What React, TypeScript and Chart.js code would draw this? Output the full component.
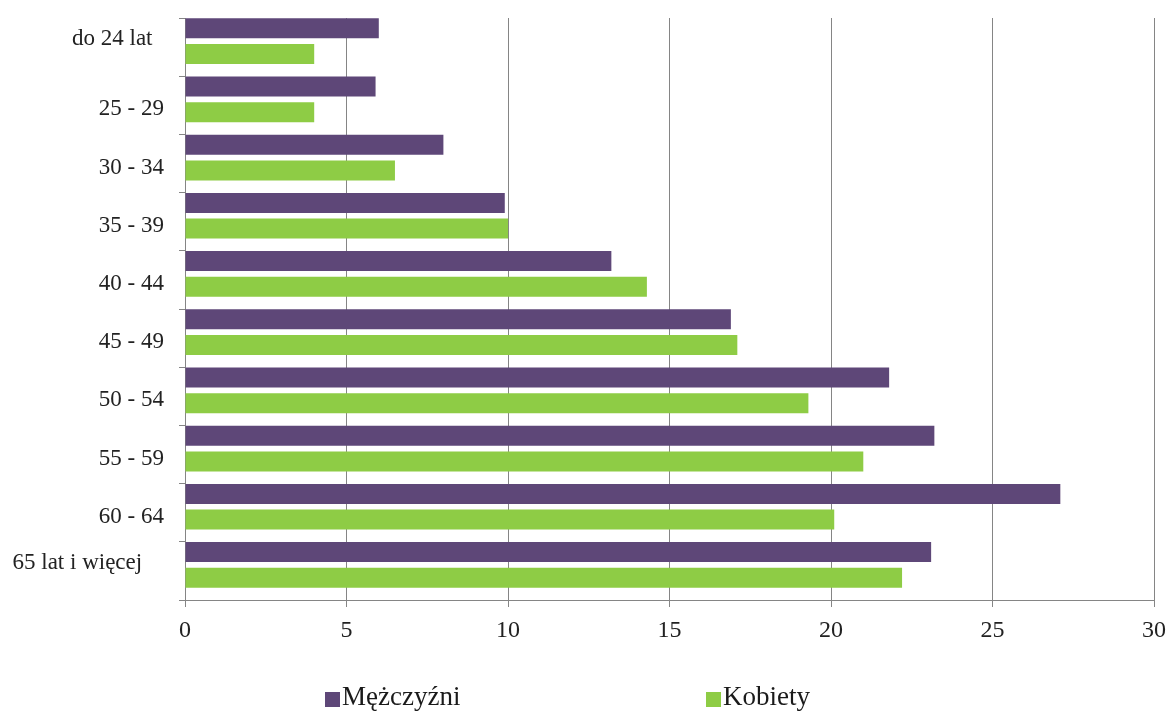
import React, { useEffect, useRef } from "react";
import { Chart, registerables } from "chart.js";

Chart.register(...registerables);

// Age groups (category axis, top to bottom)
const ageGroups = [
  "do 24 lat",
  "25 - 29",
  "30 - 34",
  "35 - 39",
  "40 - 44",
  "45 - 49",
  "50 - 54",
  "55 - 59",
  "60 - 64",
  "65 lat i więcej",
];

// Values per age group
const men = [6.0, 5.9, 8.0, 9.9, 13.2, 16.9, 21.8, 23.2, 27.1, 23.1];
const women = [4.0, 4.0, 6.5, 10.0, 14.3, 17.1, 19.3, 21.0, 20.1, 22.2];

// Value axis
const valueMin = 0;
const valueMax = 30;
const valueStep = 5;

const seriesNames = ["Mężczyźni", "Kobiety"];
const seriesColors = ["#5E4778", "#8ECC45"];

const SERIF = "'Liberation Serif', 'Times New Roman', serif";
const AXIS_GREY = "#858585";

export default function App() {
  const canvasRef = useRef<HTMLCanvasElement | null>(null);

  useEffect(() => {
    const canvas = canvasRef.current;
    if (!canvas) return;
    const last = ageGroups.length - 1;

    const chart = new Chart(canvas, {
      type: "bar",
      data: {
        labels: ageGroups,
        datasets: [
          {
            label: seriesNames[0],
            data: men,
            backgroundColor: seriesColors[0],
            borderWidth: 0,
            // the pair of bars sits a little above the category centre
            categoryPercentage: 1.292,
            barPercentage: 0.532,
          },
          {
            label: seriesNames[1],
            data: women,
            backgroundColor: seriesColors[1],
            borderWidth: 0,
            categoryPercentage: 0.474,
            barPercentage: 1.449,
          },
        ],
      },
      options: {
        indexAxis: "y",
        responsive: false,
        animation: false,
        devicePixelRatio: 1,
        layout: { padding: { top: 18, right: 14, left: 0, bottom: 0 } },
        plugins: {
          legend: { display: false },
          tooltip: { enabled: false },
        },
        scales: {
          x: {
            type: "linear",
            min: valueMin,
            max: valueMax,
            ticks: {
              stepSize: valueStep,
              color: "#222",
              font: { family: SERIF, size: 24 },
              padding: 9,
            },
            grid: {
              color: AXIS_GREY,
              lineWidth: 1,
              tickLength: 7,
              drawTicks: true,
            },
            border: { color: AXIS_GREY, width: 1 },
            afterFit: (scale: any) => {
              scale.height = 113;
              scale.paddingLeft = 0;
              scale.paddingRight = 0;
            },
          },
          y: {
            type: "category",
            offset: true,
            ticks: {
              color: "#222",
              font: { family: SERIF, size: 23, lineHeight: 1.05 },
              padding: 15,
              labelOffset: 4,
              autoSkip: false,
              callback: (_v: any, i: number) => {
                const name = ageGroups[i];
                if (i === 0) return [name + "\u00A0\u00A0", ""];
                if (i === last) return [name + "\u00A0\u00A0\u00A0\u2009", ""];
                return name;
              },
            },
            grid: {
              offset: true,
              drawOnChartArea: false,
              drawTicks: true,
              tickLength: 6,
              color: AXIS_GREY,
            },
            border: { color: AXIS_GREY, width: 1 },
            afterFit: (scale: any) => {
              scale.width = 185;
              scale.paddingTop = 0;
              scale.paddingBottom = 0;
            },
          },
        },
      },
    });

    return () => chart.destroy();
  }, []);

  const legendItem = (i: number, left: number) => (
    <div
      key={i}
      style={{
        position: "absolute",
        left,
        top: 681,
        display: "flex",
        alignItems: "center",
        fontFamily: SERIF,
        fontSize: 27,
        color: "#1a1a1a",
        lineHeight: "30px",
        whiteSpace: "nowrap",
      }}
    >
      <span
        style={{
          display: "inline-block",
          width: 15,
          height: 15,
          background: seriesColors[i],
          marginRight: 2,
          marginTop: 6,
        }}
      />
      {seriesNames[i]}
    </div>
  );

  return (
    <div
      style={{
        position: "absolute",
        left: 0,
        top: 0,
        width: 1168,
        height: 713,
        background: "#fff",
        overflow: "hidden",
      }}
    >
      <canvas ref={canvasRef} width={1168} height={713} style={{ display: "block" }} />
      {legendItem(0, 325)}
      {legendItem(1, 706)}
    </div>
  );
}
